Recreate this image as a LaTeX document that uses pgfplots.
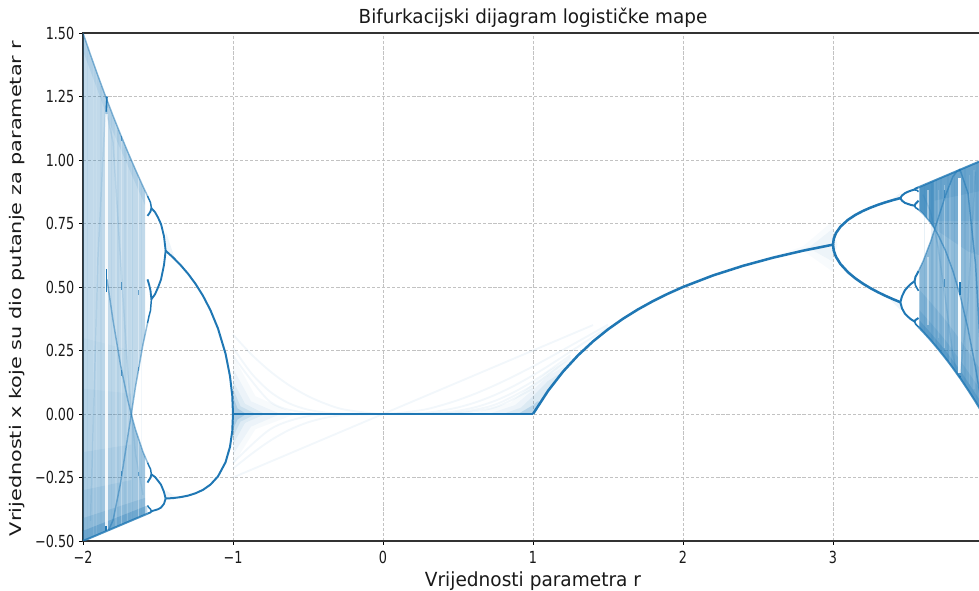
\documentclass[border=0pt]{standalone}
\usepackage{graphicx}
\usepackage{fontspec}
\setmainfont{DejaVu Sans}
\usepackage{pgfplots}
\pgfplotsset{compat=1.18}
\definecolor{Cz}{HTML}{1F77B4}
\newcommand\sy[1]{\scalebox{1}[1.3]{#1}}
\newcommand\tx[1]{\scalebox{1}[1.05]{#1}}
\pgfplotsset{
 poly/.style={draw=none,fill=Cz,fill opacity=#1,mark=none,forget plot},
 wipe/.style={draw=none,fill=white,fill opacity=#1,mark=none,forget plot},
 br/.style={draw=Cz,line width=#1,mark=none,forget plot,line join=round},
 br/.default=1.9pt,
 cv/.style={draw=Cz,draw opacity=#1,line width=1.1pt,mark=none,forget plot},
 fa/.style={draw=Cz,draw opacity=0.06,line width=1.4pt,mark=none,forget plot,smooth},
 st/.style={draw=Cz,draw opacity=#1,line width=1.2pt,mark=none,forget plot},
 wl/.style={draw=white,draw opacity=#1,line width=1.1pt,mark=none,forget plot}
}
\begin{document}
\begin{tikzpicture}
\path[use as bounding box] (0,0) rectangle (734.25pt,443.25pt);
\begin{axis}[
 at={(62.25pt,37.5pt)},anchor=south west,scale only axis,width=675pt,height=381pt,
 xmin=-2,xmax=4,ymin=-0.5,ymax=1.5,
 xtick={-2,-1,0,1,2,3},xticklabels={\sy{−2},\sy{−1},\sy{0},\sy{1},\sy{2},\sy{3}},
 ytick={-0.5,-0.25,0,0.25,0.5,0.75,1,1.25,1.5},
 yticklabels={\sy{−0.50},\sy{−0.25},\sy{0.00},\sy{0.25},\sy{0.50},\sy{0.75},\sy{1.00},\sy{1.25},\sy{1.50}},
 tick label style={font=\fontsize{9.6pt}{11pt}\selectfont,black!90},
 xticklabel style={yshift=-1pt},
 tick align=outside,tickwidth=3pt,tick style={black,line width=0.6pt},
 xtick pos=bottom,ytick pos=left,
 axis line style={line width=0.8pt,black!80},
 grid=major,grid style={draw=black!24,line width=0.55pt,dash pattern=on 2.4pt off 1.4pt},
]
% ---- faint transients, r in [-1,1] and beyond
\addplot[fa] coordinates {(-1,-.25)(-.5,-.125)(0,0)(.5,.125)(1,.25)(1.25,.3125)(1.4,.35)};
\addplot[fa] coordinates {(-1,.3125)(-.875,.2333)(-.75,.167)(-.625,.1129)(-.5,.0703)(-.375,.0385)(-.25,.0166)(0,0)(.25,.0146)(.375,.0319)(.5,.0547)(.625,.0824)(.75,.1143)(.875,.1495)(1,.1875)(1.1,.2193)(1.25,.2686)(1.5,.3516)};
\addplot[fa] coordinates {(-1,-.2148)(-.875,-.1565)(-.75,-.1043)(-.625,-.0626)(-.5,-.0327)(-.375,-.0139)(-.25,-.0041)(0,0)(.25,.0036)(.375,.0116)(.5,.0258)(.625,.0473)(.75,.0759)(.875,.1113)(1,.1523)(1.1,.1883)(1.25,.2456)(1.5,.3419)};
\addplot[fa] coordinates {(-1,.261)(-.875,.1584)(-.75,.0864)(-.625,.0416)(-.5,.0169)(-.375,.0053)(-.25,.001)(.25,.0009)(.375,.0043)(.5,.0126)(.625,.0282)(.75,.0526)(.875,.0865)(1,.1291)(1.1,.1681)(1.25,.2316)};
\addplot[fa] coordinates {(-1,-.1929)(-.75,-.0592)(-.5,-.0083)(-.25,0)(.25,0)(.5,.0062)(.75,.0374)(1,.1124)(1.1,.1537)(1.25,.2225)};
\addplot[fa] coordinates {(-1,.2301)(-.75,.047)(-.5,.0042)(-.25,0)(.25,0)(.5,.0031)(.75,.027)(1,.0998)};
% ---- haze at r=-1, r=1, r=3 and other bifurcations
\addplot[poly=.035] coordinates {(-1,-.2)(-.85,-.06)(-.6,-.004)(-.6,.004)(-.85,.07)(-1,.23)};
\addplot[poly=.05] coordinates {(-1,-.16)(-.88,-.05)(-.7,-.004)(-.7,.004)(-.88,.05)(-1,.18)};
\addplot[poly=.07] coordinates {(-1,-.12)(-.92,-.035)(-.8,-.004)(-.8,.004)(-.92,.04)(-1,.13)};
\addplot[poly=.1] coordinates {(-1,-.09)(-.95,-.03)(-.86,-.004)(-.86,.004)(-.95,.03)(-1,.1)};
\addplot[poly=.18] coordinates {(-1,-.06)(-.97,-.022)(-.92,-.003)(-.92,.003)(-.97,.022)(-1,.07)};
\addplot[poly=.035] coordinates {(.6,0)(1,0)(1.2,.1667)(1.3,.2308)(1.1,.17)(1,.12)(.85,.045)};
\addplot[poly=.05] coordinates {(.7,0)(1,0)(1.15,.1304)(1.25,.2)(1.1,.15)(1,.095)(.88,.035)};
\addplot[poly=.08] coordinates {(.8,0)(1,0)(1.1,.0909)(1.2,.1667)(1.1,.13)(1,.07)(.92,.025)};
\addplot[poly=.18] coordinates {(.9,0)(1,0)(1.05,.0476)(1.03,.05)(1,.035)};
\addplot[poly=.03] coordinates {(2.5,.6)(2.8,.6429)(3,.56)(3,.76)(2.8,.66)};
\addplot[poly=.05] coordinates {(2.7,.63)(2.85,.6491)(3,.6)(3.03,.6667)(3,.73)(2.85,.66)};
\addplot[poly=.07] coordinates {(3.38,.8395)(3.449,.8499)(3.449,.87)};
\addplot[poly=.07] coordinates {(3.38,.45)(3.449,.4401)(3.449,.41)};
\addplot[poly=.07] coordinates {(-1.38,.6)(-1.449,.6426)(-1.449,.72)};
\addplot[poly=.07] coordinates {(-1.38,-.3267)(-1.449,-.3328)(-1.449,-.30)};
% ---- chaotic part, r>3.57
\addplot[poly=.78] coordinates {(3.575,.8935)(3.6,.9)(3.65,.9125)(3.678,.9195)(3.678,.7286)(3.65,.7537)(3.6,.7885)(3.575,.803)};
\addplot[poly=.52] coordinates {(3.575,.57)(3.6,.6004)(3.65,.6776)(3.678,.7286)(3.678,.2722)(3.65,.2914)(3.6,.324)(3.575,.34)};
\addplot[poly=.5] coordinates {(3.678,.9195)(3.7,.925)(3.75,.9375)(3.8,.95)(3.85,.9625)(3.9,.975)(3.95,.9875)(4,1)(4,0)(3.95,.0488)(3.9,.0951)(3.85,.139)(3.8,.1805)(3.75,.2197)(3.7,.2567)(3.678,.2722)};
\addplot[poly=.13] coordinates {(3.678,.9195)(3.8,.95)(3.9,.975)(4,1)(4,.62)(3.9,.64)(3.8,.68)(3.678,.7286)};
\addplot[poly=.13] coordinates {(3.678,.9195)(3.8,.95)(3.9,.975)(4,1)(4,.76)(3.9,.76)(3.8,.76)(3.678,.76)};
\addplot[poly=.14] coordinates {(3.678,.9195)(3.8,.95)(3.9,.975)(4,1)(4,.88)(3.678,.84)};
\addplot[poly=.14] coordinates {(3.575,.34)(3.65,.2914)(3.75,.2197)(3.85,.139)(3.95,.0488)(4,0)(4,.16)(3.85,.29)(3.75,.37)(3.65,.44)(3.575,.49)};
\addplot[poly=.16] coordinates {(3.575,.34)(3.65,.2914)(3.75,.2197)(3.85,.139)(3.95,.0488)(4,0)(4,.08)(3.85,.21)(3.75,.29)(3.65,.36)(3.575,.41)};
\addplot[poly=.25] coordinates {(3.575,.34)(3.65,.2914)(3.75,.2197)(3.85,.139)(3.95,.0488)(4,0)(4,.035)(3.85,.17)(3.75,.25)(3.65,.32)(3.575,.37)};
% ---- chaotic part, r<-1.585
\addplot[poly=.42] coordinates {(-1.585,-.3963)(-1.6,-.4)(-1.65,-.4125)(-1.678,-.4195)(-1.678,-.0011)(-1.65,-.0612)(-1.6,-.1491)(-1.585,-.17)};
\addplot[poly=.28] coordinates {(-1.585,.31)(-1.6,.2741)(-1.65,.1072)(-1.678,-.0011)(-1.678,.9993)(-1.65,.9614)(-1.6,.896)(-1.585,.876)};
\addplot[poly=.28] coordinates {(-1.678,-.4195)(-1.7,-.425)(-1.75,-.4375)(-1.8,-.45)(-1.85,-.4625)(-1.9,-.475)(-1.95,-.4875)(-2,-.5)(-2,1.5)(-1.95,1.4141)(-1.9,1.3312)(-1.85,1.2513)(-1.8,1.1745)(-1.75,1.1006)(-1.7,1.0296)(-1.678,.9993)};
\addplot[poly=.03] coordinates {(-2,-.5)(-1.678,-.4195)(-1.678,.25)(-2,.3)};
\addplot[poly=.04] coordinates {(-2,-.5)(-1.678,-.4195)(-1.678,.08)(-2,.1)};
\addplot[poly=.07] coordinates {(-2,-.5)(-1.678,-.4195)(-1.678,-.12)(-2,-.15)};
\addplot[poly=.09] coordinates {(-2,-.5)(-1.678,-.4195)(-1.678,-.26)(-2,-.3)};
\addplot[poly=.15] coordinates {(-2,-.5)(-1.585,-.3963)(-1.585,-.33)(-2,-.41)};
\addplot[poly=.28] coordinates {(-2,-.5)(-1.57,-.3925)(-1.57,-.36)(-2,-.46)};
\addplot[poly=.1] coordinates {(-2,1.5)(-1.8,1.1745)(-1.6,.896)(-1.585,.876)(-1.585,.82)(-1.6,.84)(-1.8,1.11)(-2,1.43)};
% ---- windows and streaks
\addplot[wipe=.92] coordinates {(3.834,.93)(3.856,.93)(3.856,.16)(3.834,.16)};
\addplot[wl=.3] coordinates {(3.742,.9)(3.742,.26)};
\addplot[wl=.15] coordinates {(3.705,.88)(3.705,.3)};
\addplot[wl=.45] coordinates {(3.632,.88)(3.632,.75)};
\addplot[wl=.45] coordinates {(3.632,.62)(3.632,.35)};
\addplot[wl=.12] coordinates {(3.78,.9)(3.78,.2)};
\addplot[wl=.12] coordinates {(3.91,.94)(3.91,.12)};
\addplot[wl=.1] coordinates {(3.94,.96)(3.94,.1)};
\addplot[st=.1] coordinates {(3.61,.9)(3.61,.32)};
\addplot[st=.12] coordinates {(3.66,.915)(3.66,.285)};
\addplot[st=.12] coordinates {(3.69,.92)(3.69,.26)};
\addplot[st=.1] coordinates {(3.72,.93)(3.72,.24)};
\addplot[st=.1] coordinates {(3.765,.94)(3.765,.21)};
\addplot[st=.12] coordinates {(3.81,.95)(3.81,.17)};
\addplot[st=.1] coordinates {(3.88,.97)(3.88,.11)};
\addplot[st=.1] coordinates {(3.96,.99)(3.96,.04)};
\addplot[wipe=.85] coordinates {(-1.834,-.462)(-1.856,-.462)(-1.856,1.18)(-1.834,1.18)};
\addplot[wl=.3] coordinates {(-1.744,-.44)(-1.744,1.1)};
\addplot[wl=.18] coordinates {(-1.705,-.42)(-1.705,1.03)};
\addplot[wl=.38] coordinates {(-1.631,-.405)(-1.631,.94)};
\addplot[wl=.15] coordinates {(-1.78,-.44)(-1.78,1.14)};
\addplot[wl=.1] coordinates {(-1.93,-.48)(-1.93,1.37)};
\addplot[wl=.1] coordinates {(-1.91,-.48)(-1.91,1.34)};
\addplot[st=.06] coordinates {(-1.97,-.49)(-1.97,1.44)};
\addplot[st=.06] coordinates {(-1.88,-.47)(-1.88,1.29)};
\addplot[st=.06] coordinates {(-1.81,-.45)(-1.81,1.18)};
\addplot[st=.06] coordinates {(-1.765,-.44)(-1.765,1.12)};
\addplot[st=.06] coordinates {(-1.72,-.43)(-1.72,1.05)};
\addplot[st=.08] coordinates {(-1.67,-.417)(-1.67,.98)};
\addplot[st=.06] coordinates {(-1.61,-.40)(-1.61,.9)};
% ---- darker critical curves
\addplot[cv=.55] coordinates {(3.57,.8039)(3.6,.7885)(3.65,.7537)(3.678,.7286)(3.7,.706)(3.75,.643)(3.8,.5621)(3.85,.4607)(3.9,.3356)(3.95,.1833)(3.98,.0772)};
\addplot[cv=.55] coordinates {(3.57,.5628)(3.6,.6004)(3.65,.6776)(3.678,.7286)(3.7,.768)(3.75,.8609)(3.8,.9354)(3.83,.9575)(3.85,.9566)(3.9,.8696)(3.95,.5913)(3.98,.2836)};
\addplot[cv=.18] coordinates {(3.6,.8637)(3.65,.7974)(3.7,.6593)(3.75,.4491)(3.8,.2296)(3.83,.1556)(3.85,.1598)(3.9,.4423)(3.95,.9546)};
\addplot[cv=.5] coordinates {(-1.57,-.191)(-1.6,-.1491)(-1.65,-.0612)(-1.678,-.0011)(-1.7,.0516)(-1.75,.1936)(-1.8,.3689)(-1.84,.53)};
\addplot[cv=.5] coordinates {(-1.57,.3572)(-1.6,.2741)(-1.65,.1072)(-1.678,-.0011)(-1.7,-.0833)(-1.75,-.2734)(-1.8,-.4192)(-1.83,-.4575)};
\addplot[cv=.12] coordinates {(-1.6,-.3183)(-1.65,-.1579)(-1.7,.1533)(-1.75,.6091)(-1.8,1.0708)(-1.85,1.208)(-1.9,.6184)(-1.95,-.4207)};
% ---- outer envelopes
\addplot[br=1.5pt,draw opacity=.8] coordinates {(3.57,.8925)(3.6,.9)(3.65,.9125)(3.7,.925)(3.75,.9375)(3.8,.95)(3.85,.9625)(3.9,.975)(3.95,.9875)(4,1)};
\addplot[br=1.5pt,draw opacity=.8] coordinates {(3.57,.3425)(3.6,.324)(3.65,.2914)(3.7,.2567)(3.75,.2197)(3.8,.1805)(3.85,.139)(3.9,.0951)(3.95,.0488)(4,0)};
\addplot[br=1.5pt,draw opacity=.8] coordinates {(-1.57,-.3925)(-1.6,-.4)(-1.65,-.4125)(-1.7,-.425)(-1.75,-.4375)(-1.8,-.45)(-1.85,-.4625)(-1.9,-.475)(-1.95,-.4875)(-2,-.5)};
\addplot[br=1.1pt,draw opacity=.5] coordinates {(-1.57,.8581)(-1.6,.896)(-1.65,.9614)(-1.7,1.0296)(-1.75,1.1006)(-1.8,1.1745)(-1.85,1.2513)(-1.9,1.3312)(-1.95,1.4141)(-2,1.5)};
% ---- period-3, 5, 6 windows
\addplot[br=1.4pt] coordinates {(3.84,.9594)(3.85,.9625)};
\addplot[br=1.3pt] coordinates {(3.847,.47)(3.847,.52)};
\addplot[br=1.4pt] coordinates {(3.84,.1494)(3.85,.145)};
\addplot[br=1.2pt] coordinates {(-1.845,-.46)(-1.845,-.44)};
\addplot[br=1.1pt] coordinates {(-1.843,.48)(-1.843,.57)};
\addplot[br=1.2pt] coordinates {(-1.845,1.19)(-1.84,1.25)};
\addplot[br=1pt,draw opacity=.7] coordinates {(-1.742,1.075)(-1.742,1.095)};
\addplot[br=1pt,draw opacity=.7] coordinates {(-1.742,.49)(-1.742,.52)};
\addplot[br=1pt,draw opacity=.7] coordinates {(-1.742,.15)(-1.742,.175)};
\addplot[br=1pt,draw opacity=.7] coordinates {(-1.742,-.245)(-1.742,-.225)};
\addplot[br=.9pt,draw opacity=.6] coordinates {(-1.632,.47)(-1.632,.49)};
\addplot[br=.9pt,draw opacity=.6] coordinates {(-1.632,-.245)(-1.632,-.23)};
\addplot[br=.9pt,draw opacity=.6] coordinates {(-1.632,.17)(-1.632,.185)};
\addplot[br=.9pt,draw opacity=.7] coordinates {(3.742,.5)(3.742,.53)};
\addplot[br=.9pt,draw opacity=.7] coordinates {(3.742,.85)(3.742,.88)};
% ---- stable branches
\addplot[br=2.2pt] coordinates {(-1,0)(1,0)};
\addplot[br] coordinates {(1,0)(1.1,.0909)(1.2,.1667)(1.3,.2308)(1.4,.2857)(1.5,.3333)(1.6,.375)(1.7,.4118)(1.8,.4444)(1.9,.4737)(2,.5)(2.2,.5455)(2.4,.5833)(2.6,.6154)(2.8,.6429)(3,.6667)};
\addplot[br] coordinates {(3,.6667)(3.005,.6899)(3.02,.7125)(3.05,.7377)(3.1,.7646)(3.15,.784)(3.2,.7995)(3.25,.8124)(3.3,.8236)(3.35,.8334)(3.4,.8422)(3.449,.8499)};
\addplot[br] coordinates {(3,.6667)(3.005,.6428)(3.02,.6186)(3.05,.5902)(3.1,.558)(3.15,.5335)(3.2,.513)(3.25,.4952)(3.3,.4794)(3.35,.4651)(3.4,.452)(3.449,.4401)};
\addplot[br=1.5pt] coordinates {(3.449,.8499)(3.46,.8602)(3.48,.8694)(3.5,.875)(3.52,.8795)(3.54,.883)(3.55,.8874)(3.56,.89)(3.57,.8925)};
\addplot[br=1.2pt] coordinates {(3.544,.884)(3.55,.8817)(3.56,.8808)(3.57,.875)};
\addplot[br=1.5pt] coordinates {(3.449,.8499)(3.46,.84)(3.48,.831)(3.5,.8269)(3.52,.823)(3.544,.82)(3.55,.8278)(3.56,.833)(3.57,.84)};
\addplot[br=1.2pt] coordinates {(3.544,.82)(3.55,.8127)(3.56,.8089)(3.57,.8039)};
\addplot[br=1.5pt] coordinates {(3.449,.4401)(3.46,.4635)(3.48,.4875)(3.5,.5009)(3.52,.5125)(3.544,.523)(3.55,.5405)(3.56,.5503)(3.57,.5628)};
\addplot[br=1.2pt] coordinates {(3.544,.523)(3.55,.506)(3.56,.4953)(3.57,.485)};
\addplot[br=1.5pt] coordinates {(3.449,.4401)(3.46,.4157)(3.48,.3945)(3.5,.3828)(3.52,.3727)(3.544,.364)(3.55,.3703)(3.56,.3738)(3.57,.378)};
\addplot[br=1.2pt] coordinates {(3.544,.364)(3.55,.3548)(3.56,.3487)(3.57,.3425)};
\addplot[br=1.5pt] coordinates {(-1,0)(-1.005,-.0675)(-1.02,-.1292)(-1.05,-.1905)(-1.1,-.2457)(-1.15,-.2779)(-1.2,-.2987)(-1.25,-.3122)(-1.3,-.3215)(-1.35,-.3273)(-1.4,-.3311)(-1.449,-.3328)};
\addplot[br=1.5pt] coordinates {(-1,0)(-1.005,.0726)(-1.02,.1489)(-1.05,.238)(-1.1,.3365)(-1.15,.4082)(-1.2,.4653)(-1.25,.5125)(-1.3,.5523)(-1.35,.5866)(-1.4,.6166)(-1.449,.6426)};
\addplot[br=1.4pt] coordinates {(-1.449,-.3328)(-1.46,-.3536)(-1.48,-.3686)(-1.5,-.375)(-1.52,-.3788)(-1.54,-.382)(-1.55,-.3873)(-1.56,-.39)(-1.57,-.3925)};
\addplot[br=1.1pt] coordinates {(-1.544,-.383)(-1.55,-.3742)(-1.56,-.369)(-1.57,-.36)};
\addplot[br=1.4pt] coordinates {(-1.449,-.3328)(-1.46,-.3069)(-1.48,-.2783)(-1.5,-.2627)(-1.52,-.248)(-1.544,-.2379)(-1.55,-.2508)(-1.56,-.26)(-1.57,-.27)};
\addplot[br=1.1pt] coordinates {(-1.544,-.2379)(-1.55,-.2162)(-1.56,-.2049)(-1.57,-.191)};
\addplot[br=1.4pt] coordinates {(-1.449,.6426)(-1.46,.6998)(-1.48,.7481)(-1.5,.7735)(-1.52,.7948)(-1.544,.8103)(-1.55,.7971)(-1.56,.788)(-1.57,.78)};
\addplot[br=1.1pt] coordinates {(-1.544,.8103)(-1.55,.8325)(-1.56,.8453)(-1.57,.8581)};
\addplot[br=1.4pt] coordinates {(-1.449,.6426)(-1.46,.5865)(-1.48,.5294)(-1.5,.4979)(-1.52,.4711)(-1.544,.4517)(-1.55,.4863)(-1.56,.5107)(-1.57,.53)};
\addplot[br=1.1pt] coordinates {(-1.544,.4517)(-1.55,.4072)(-1.56,.3852)(-1.57,.3572)};
\end{axis}
\node[anchor=center,font=\fontsize{13.8pt}{15pt}\selectfont,text=black!90] at (399.75pt,430pt) {\tx{Bifurkacijski dijagram logističke mape}};
\node[anchor=center,font=\fontsize{13.9pt}{15pt}\selectfont,text=black!90] at (399.75pt,7.5pt) {\tx{Vrijednosti parametra r}};
\node[anchor=center,rotate=90,font=\fontsize{12pt}{14pt}\selectfont,text=black!90] at (12.5pt,227pt) {\scalebox{1.3}[1]{Vrijednosti x koje su dio putanje za parametar r}};
\end{tikzpicture}
\end{document}
